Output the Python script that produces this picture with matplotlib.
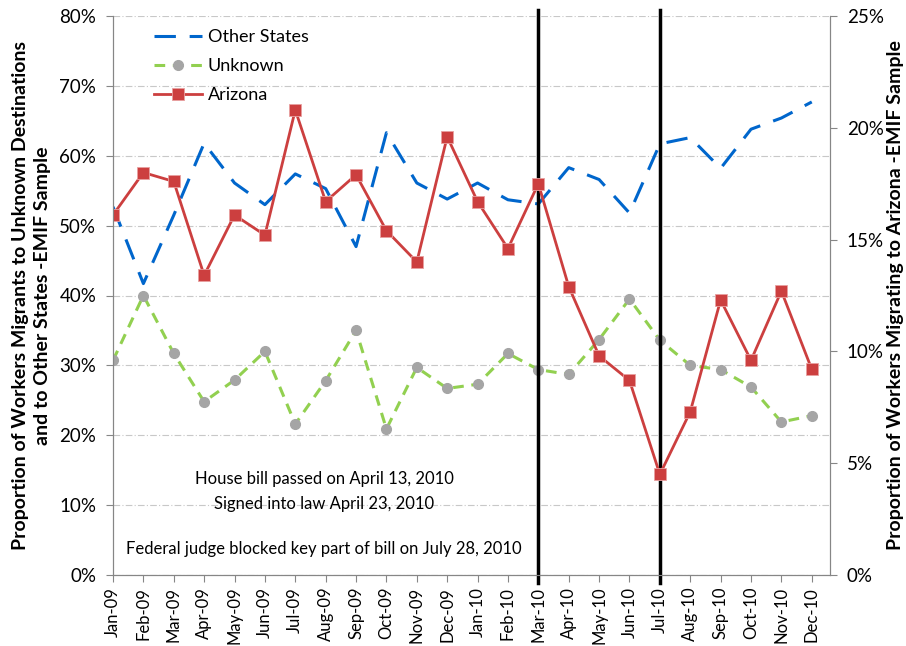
import numpy as np
import matplotlib
matplotlib.use("Agg")
import matplotlib.pyplot as plt
from matplotlib.ticker import PercentFormatter

plt.rcParams['font.family'] = ['Lato', 'DejaVu Sans']

# Month labels for the x axis
months = ["Jan-09", "Feb-09", "Mar-09", "Apr-09", "May-09", "Jun-09", "Jul-09", "Aug-09",
          "Sep-09", "Oct-09", "Nov-09", "Dec-09", "Jan-10", "Feb-10", "Mar-10", "Apr-10",
          "May-10", "Jun-10", "Jul-10", "Aug-10", "Sep-10", "Oct-10", "Nov-10", "Dec-10"]

# Left axis series (%)
other_states = [52.7, 41.7, 51.5, 61.8, 56.1, 53.0, 57.4, 55.3, 47.0, 63.3, 56.1, 53.8,
                56.1, 53.7, 53.1, 58.3, 56.6, 51.8, 61.7, 62.6, 58.2, 63.8, 65.4, 67.7]
unknown = [30.7, 40.0, 31.7, 24.8, 27.9, 32.0, 21.6, 27.8, 35.0, 20.9, 29.7, 26.7,
           27.3, 31.7, 29.4, 28.7, 33.7, 39.5, 33.6, 30.0, 29.4, 26.9, 21.9, 22.8]

# Right axis series (%)
arizona = [16.1, 18.0, 17.6, 13.4, 16.1, 15.2, 20.8, 16.7, 17.9, 15.4, 14.0, 19.6,
           16.7, 14.6, 17.5, 12.9, 9.8, 8.7, 4.5, 7.3, 12.3, 9.6, 12.7, 9.2]

# Event markers (month labels)
events = ["Mar-10", "Jul-10"]

notes = ["House bill passed on April 13, 2010",
         "Signed into law April 23, 2010",
         "Federal judge blocked key part of bill on July 28, 2010"]
note_y = [13.8, 10.1, 3.7]

x = np.arange(len(months))

fig = plt.figure(figsize=(9.06, 6.46), dpi=100)
ax = fig.add_axes([113 / 906, 71 / 646, (830 - 113) / 906, (575 - 16) / 646])
ax2 = ax.twinx()

blue = "#0066CC"
green = "#92D050"
gray = "#A5A5A5"
red = "#CC3F3F"

l1, = ax.plot(x, other_states, color=blue, lw=2.2, dashes=(7, 4.5), label="Other States")
l2, = ax.plot(x, unknown, color=green, lw=2.2, dashes=(3.5, 2.5), marker="o", ms=7,
              mfc=gray, mec=gray, label="Unknown")
l3, = ax2.plot(x, arizona, color=red, lw=2.0, marker="s", ms=8.5, mfc=red, mec="#E8A0A0",
               mew=0.6, label="Arizona")

ax.set_xlim(0, 23.6)
ax.set_ylim(0, 80)
ax2.set_ylim(0, 25)
ax.set_yticks(np.arange(0, 81, 10))
ax2.set_yticks(np.arange(0, 26, 5))
ax.yaxis.set_major_formatter(PercentFormatter(decimals=0))
ax2.yaxis.set_major_formatter(PercentFormatter(decimals=0))

ax.set_xticks(x)
ax.set_xticklabels(months, rotation=90, fontsize=12)
ax.tick_params(axis="y", labelsize=13.5, length=5, pad=7, color="#868686", direction="out")
ax2.tick_params(axis="y", labelsize=13.5, length=5, pad=7, color="#868686", direction="out")
ax.tick_params(axis="x", length=5, color="#868686")

ax.grid(axis="y", color="#C8C8C8", lw=0.8, linestyle=(0, (6, 2, 1, 2)))
ax.set_axisbelow(True)

for a in (ax, ax2):
    a.spines["top"].set_visible(False)
    for s in ("left", "right", "bottom"):
        a.spines[s].set_color("#868686")

for ev in events:
    xe = months.index(ev)
    ax.plot([xe, xe], [-1.2, 80.8], color="black", lw=2.5, clip_on=False, zorder=5)

for txt, ty in zip(notes, note_y):
    ax.text(6.95, ty, txt, ha="center", va="center", fontsize=12)

ax.set_ylabel("Proportion of Workers Migrants to Unknown Destinations\nand to Other States -EMIF Sample",
              fontsize=14, fontweight="bold", linespacing=1.35)
ax.yaxis.set_label_coords(-0.086, 0.5)
ax2.set_ylabel("Proportion of Workers Migrating to Arizona -EMIF Sample",
               fontsize=14, fontweight="bold")
ax2.yaxis.set_label_coords(1.080, 0.5)

ax.legend(handles=[l1, l2, l3], loc="upper left", bbox_to_anchor=(0.034, 1.006),
          frameon=False, fontsize=13, handlelength=2.7, handletextpad=0.3,
          labelspacing=0.72)

fig.savefig("out.png", dpi=100)
